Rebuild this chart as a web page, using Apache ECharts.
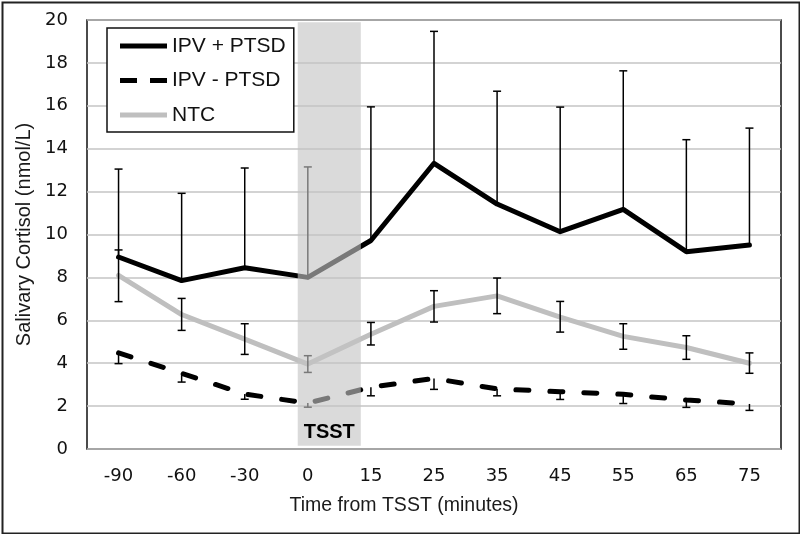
<!DOCTYPE html>
<html>
<head>
<meta charset="utf-8">
<script src="https://cdn.jsdelivr.net/npm/echarts@6/dist/echarts.min.js"></script>
<style>
html,body{margin:0;padding:0;background:#fff;}
#chart{width:800px;height:534px;}
</style>
</head>
<body>
<div id="chart"></div>
<script>
const categories = ['-90','-60','-30','0','15','25','35','45','55','65','75'];
const yTicks = [0,2,4,6,8,10,12,14,16,18,20];

const ipvPtsd      = [8.95, 7.85, 8.45, 8.0, 9.72, 13.32, 11.42, 10.13, 11.17, 9.2, 9.51];
const ipvPtsdUpper = [13.05, 11.92, 13.1, 13.15, 15.95, 19.47, 16.68, 15.94, 17.63, 14.42, 14.96];

const ipvNoPtsd      = [4.48, 3.53, 2.56, 2.14, 2.88, 3.29, 2.8, 2.67, 2.55, 2.28, 2.1];
const ipvNoPtsdLower = [3.98, 3.12, 2.32, 1.95, 2.48, 2.78, 2.48, 2.31, 2.12, 1.94, 1.8];

const ntc      = [8.1, 6.27, 5.12, 3.96, 5.35, 6.65, 7.14, 6.15, 5.25, 4.73, 4.0];
const ntcLower = [6.87, 5.53, 4.41, 3.57, 4.85, 5.92, 6.31, 5.45, 4.65, 4.18, 3.53];
const ntcUpper = [9.28, 7.02, 5.84, 4.35, 5.9, 7.38, 7.97, 6.88, 5.84, 5.28, 4.48];

// TSST period band, in category-slot units (hidden value axis 0..11) and y values
const tsstBand = [[3.34, 4.34, 0.15, 19.9]];
const tsstLabel = 'TSST';

function errData(low, high) {
  return categories.map((c, i) => [i, low[i], high[i]]);
}

function makeErr(showLow, showHigh) {
  return function (params, api) {
    const i = api.value(0);
    const lo = api.coord([i, api.value(1)]);
    const hi = api.coord([i, api.value(2)]);
    const cap = 4;
    const st = { stroke: '#000', lineWidth: 1.5, fill: null };
    const ch = [{ type: 'line', shape: { x1: lo[0], y1: lo[1], x2: hi[0], y2: hi[1] }, style: st }];
    if (showLow) ch.push({ type: 'line', shape: { x1: lo[0]-cap, y1: lo[1], x2: lo[0]+cap, y2: lo[1] }, style: st });
    if (showHigh) ch.push({ type: 'line', shape: { x1: hi[0]-cap, y1: hi[1], x2: hi[0]+cap, y2: hi[1] }, style: st });
    return { type: 'group', children: ch };
  };
}

const solidIcon = 'path://M0,0h47v5h-47z';
const dashIcon = 'path://M0,0h17v5h-17zM30,0h17v5h-17z';

const chart = echarts.init(document.getElementById('chart'), null, { renderer: 'canvas' });

const option = {
  animation: false,
  backgroundColor: '#fff',
  graphic: [{
    type: 'rect', left: 0, top: 0, z: 100, silent: true,
    shape: { x: 1, y: 1, width: 797, height: 531 },
    style: { fill: null, stroke: '#222', lineWidth: 2 }
  }],
  grid: {
    left: 87, right: 19, top: 20, bottom: 85,
    show: true, borderColor: '#111', borderWidth: 1.5, backgroundColor: 'transparent'
  },
  legend: {
    orient: 'vertical',
    left: 107, top: 28,
    padding: [6, 8, 5, 13],
    backgroundColor: '#fff',
    borderColor: '#111', borderWidth: 1.5,
    itemWidth: 47, itemHeight: 5, itemGap: 10.5, itemTextGap: 5,
    textStyle: { fontFamily: 'Liberation Sans', fontSize: 21, color: '#111', lineHeight: 24 },
    data: [
      { name: 'IPV + PTSD', icon: solidIcon },
      { name: 'IPV - PTSD', icon: dashIcon },
      { name: 'NTC', icon: solidIcon }
    ]
  },
  xAxis: [{
    type: 'category',
    data: categories,
    boundaryGap: true,
    axisLine: { show: false },
    axisTick: { show: false },
    axisLabel: { fontFamily: 'DejaVu Sans', fontSize: 18, color: '#111', margin: 18, interval: 0 },
    splitLine: { show: false },
    name: 'Time from TSST (minutes)',
    nameLocation: 'middle',
    nameGap: 47,
    nameTextStyle: { fontFamily: 'Liberation Sans', fontSize: 19.5, color: '#1a1a1a', padding: [0, 60, 0, 0] }
  }, {
    type: 'value', min: 0, max: 11, show: false
  }],
  yAxis: {
    type: 'value',
    min: 0, max: 20, interval: 2,
    axisLine: { show: false },
    axisTick: { show: false },
    axisLabel: { fontFamily: 'DejaVu Sans', fontSize: 18, color: '#111', margin: 19,
      formatter: v => yTicks.indexOf(v) >= 0 ? String(v) : '' },
    splitLine: { show: true, lineStyle: { color: '#c4c4c4', width: 1.5 } },
    name: 'Salivary Cortisol (nmol/L)',
    nameLocation: 'middle',
    nameGap: 50,
    nameTextStyle: { fontFamily: 'Liberation Sans', fontSize: 20, color: '#1a1a1a' }
  },
  series: [
    {
      name: 'IPV + PTSD', type: 'line', data: ipvPtsd, z: 2,
      symbol: 'none', showSymbol: false,
      lineStyle: { color: '#000', width: 5, cap: 'round', join: 'round' },
      itemStyle: { color: '#000' }
    },
    {
      name: 'IPV - PTSD', type: 'line', data: ipvNoPtsd, z: 2,
      symbol: 'none', showSymbol: false,
      lineStyle: { color: '#000', width: 5, type: [13, 21], cap: 'round', join: 'round' },
      itemStyle: { color: '#000' }
    },
    {
      name: 'NTC', type: 'line', data: ntc, z: 2,
      symbol: 'none', showSymbol: false,
      lineStyle: { color: '#bfbfbf', width: 5, cap: 'round', join: 'round' },
      itemStyle: { color: '#bfbfbf' }
    },
    { type: 'custom', name: 'err1', z: 3, silent: true, renderItem: makeErr(false, true), data: errData(ipvPtsd, ipvPtsdUpper) },
    { type: 'custom', name: 'err2', z: 3, silent: true, renderItem: makeErr(true, false), data: errData(ipvNoPtsdLower, ipvNoPtsd) },
    { type: 'custom', name: 'err3', z: 3, silent: true, renderItem: makeErr(true, true), data: errData(ntcLower, ntcUpper) },
    {
      type: 'custom', name: 'band', z: 10, silent: true,
      xAxisIndex: 1, yAxisIndex: 0,
      renderItem: function (params, api) {
        const p1 = api.coord([api.value(0), api.value(3)]);
        const p2 = api.coord([api.value(1), api.value(2)]);
        return {
          type: 'group',
          children: [
            { type: 'rect', shape: { x: p1[0], y: p1[1], width: p2[0]-p1[0], height: p2[1]-p1[1] },
              style: { fill: 'rgba(196,196,196,0.62)' } },
            { type: 'text', style: { x: (p1[0]+p2[0])/2, y: p2[1]-3, text: tsstLabel,
              fill: '#000', font: 'bold 20px "Liberation Sans"', align: 'center', verticalAlign: 'bottom' } }
          ]
        };
      },
      data: tsstBand
    }
  ]
};
chart.setOption(option);
</script>
</body>
</html>
